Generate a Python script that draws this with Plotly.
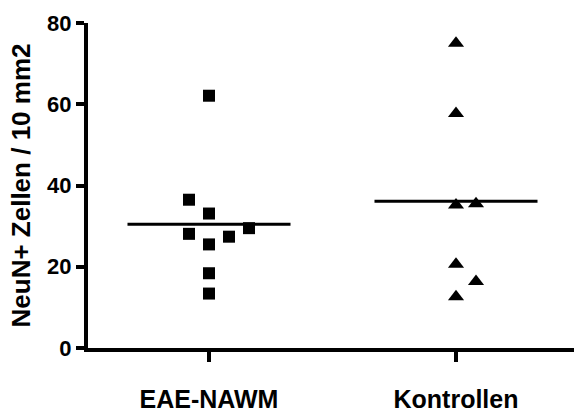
import plotly.graph_objects as go

categories = ["EAE-NAWM", "Kontrollen"]
eae_values = [62.1, 36.5, 33.1, 28.1, 27.4, 25.5, 29.5, 18.4, 13.4]
eae_slots = [0, -1, 0, -1, 1, 0, 2, 0, 0]
kon_values = [75.0, 57.7, 35.2, 35.5, 20.6, 16.4, 12.6]
kon_slots = [0, 0, 0, 1, 0, 1, 0]
y_ticks = [0, 20, 40, 60, 80]
y_title = "NeuN+ Zellen / 10 mm2"

SLOT = 0.081
HALF = 0.33
FONT = "Liberation Sans, Arial, sans-serif"

fig = go.Figure()
groups = [(1, eae_values, eae_slots, "square", 12),
          (2, kon_values, kon_slots, "triangle-up", 14)]
for pos, vals, slots, sym, size in groups:
    fig.add_trace(go.Scatter(
        x=[pos + s * SLOT for s in slots], y=vals, mode="markers",
        marker=dict(symbol=sym, size=size, color="black", line=dict(width=0)),
        showlegend=False))
    m = sum(vals) / len(vals)
    fig.add_trace(go.Scatter(
        x=[pos - HALF, pos + HALF], y=[m, m], mode="lines",
        line=dict(color="black", width=3), showlegend=False))

L = 88
fig.update_layout(
    width=574, height=412,
    margin=dict(l=L, r=0, t=23, b=64, autoexpand=False),
    paper_bgcolor="white", plot_bgcolor="white",
    font=dict(family=FONT, color="black"),
    xaxis=dict(
        range=[1 - (209 - L) / 247, 2 + (574 - 456) / 247],
        tickvals=[1, 2], ticktext=categories,
        showline=True, linecolor="black", linewidth=4,
        ticks="outside", ticklen=10, tickwidth=4, tickcolor="black",
        tickfont=dict(size=25, family=FONT, weight=700),
        ticklabelstandoff=16, automargin=False,
        showgrid=False, zeroline=False),
    yaxis=dict(
        range=[0, 80], tickvals=y_ticks,
        showline=True, linecolor="black", linewidth=4,
        ticks="outside", ticklen=8, tickwidth=4, tickcolor="black",
        tickfont=dict(size=22, family=FONT, weight=700),
        title=dict(text=y_title, font=dict(size=26, family=FONT, weight=700), standoff=10),
        automargin=False,
        showgrid=False, zeroline=False),
)

fig.write_html("out.html", config={"displayModeBar": False},
               post_script="document.body.style.margin='0';document.body.style.overflow='hidden';")
